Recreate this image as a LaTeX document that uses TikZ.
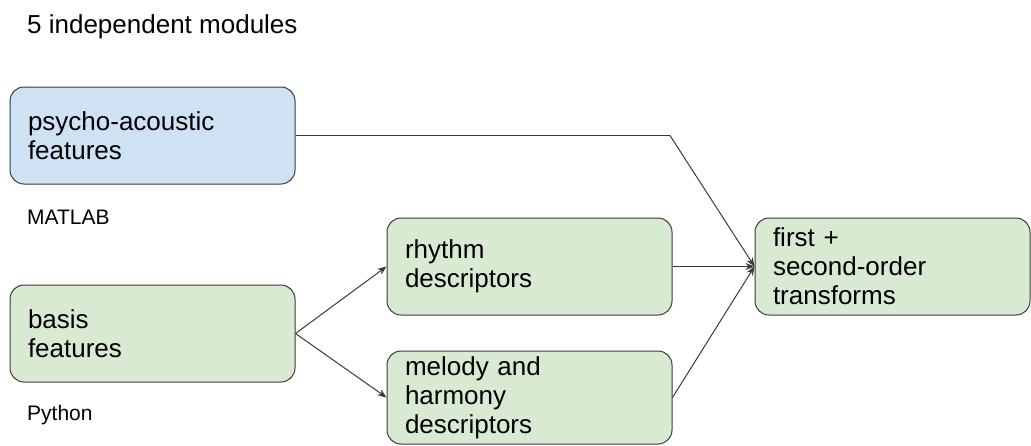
\documentclass[tikz,border=0pt]{standalone}
\usepackage{fontspec}
\setmainfont{Liberation Sans}
\usetikzlibrary{arrows.meta}
\definecolor{boxblue}{HTML}{CFE2F3}
\definecolor{boxgreen}{HTML}{D9EAD3}
\definecolor{edge}{HTML}{3A3A3A}
\tikzset{
  modbox/.style={draw=edge, line width=1pt, rounded corners=14pt, anchor=center,
    inner xsep=18pt, inner ysep=0pt, align=left, text=black,
    font=\fontsize{26}{29}\selectfont},
  conn/.style={draw=edge, line width=1pt, -{Stealth[length=9pt,width=7pt]}},
  plainline/.style={draw=edge, line width=1pt},
  lbl/.style={anchor=base west, inner sep=0pt, text=black, font=\fontsize{21}{24}\selectfont},
  ttl/.style={anchor=base west, inner sep=0pt, text=black, font=\fontsize{26}{29}\selectfont}
}
\begin{document}
\begin{tikzpicture}[x=1pt,y=-1pt]
\useasboundingbox (0,0) rectangle (1031,445);
\node[ttl] (title) at (27,33) {5 independent modules};
\node[modbox, fill=boxblue, text width=249pt, minimum height=97pt] (psy) at (152.5,135.5) {psycho-acoustic\\features};
\node[lbl] (matlab) at (27,224) {MATLAB};
\node[modbox, fill=boxgreen, text width=249pt, minimum height=97pt] (basis) at (152.5,333.5) {basis\\features};
\node[lbl] (python) at (27,420) {Python};
\node[modbox, fill=boxgreen, text width=249pt, minimum height=97pt] (rhy) at (529.5,266.5) {rhythm\\descriptors};
\node[modbox, fill=boxgreen, text width=249pt, minimum height=93pt] (mel) at (529.5,397.5) {melody and\\harmony\\descriptors};
\node[modbox, fill=boxgreen, text width=239pt, minimum height=97pt] (first) at (892.5,266.5) {first +\\second-order\\transforms};
\coordinate (bend) at (670,135.5);
\draw[plainline] (psy.east) -- (bend);
\draw[conn] (bend) -- (first.west);
\draw[conn] (rhy.east) -- (first.west);
\draw[conn] (mel.east) -- (first.west);
\draw[conn] (basis.east) -- (rhy.west);
\draw[conn] (basis.east) -- (mel.west);
\end{tikzpicture}
\end{document}
